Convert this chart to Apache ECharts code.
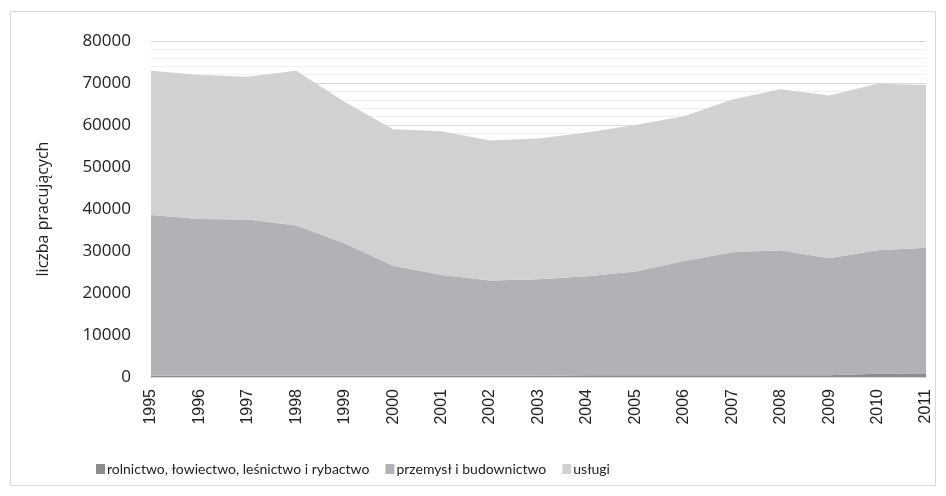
<!DOCTYPE html>
<html>
<head>
<meta charset="utf-8">
<script src="https://cdn.jsdelivr.net/npm/echarts@6/dist/echarts.min.js"></script>
<style>
    html, body { margin: 0; padding: 0; background: #fff; }
    #chart { width: 946px; height: 496px; }
</style>
</head>
<body>
<div id="chart"></div>
<script>
// lata
const years = ['1995', '1996', '1997', '1998', '1999', '2000', '2001', '2002', '2003',
    '2004', '2005', '2006', '2007', '2008', '2009', '2010', '2011'];
// rolnictwo, łowiectwo, leśnictwo i rybactwo
const rolnictwo = [300, 300, 300, 300, 300, 300, 300, 300, 300,
    400, 400, 400, 400, 400, 400, 800, 700];
// przemysł i budownictwo
const przemysl = [38300, 37300, 37200, 35800, 31500, 26200, 24000, 22700, 23000,
    23600, 24700, 27200, 29300, 29800, 27900, 29400, 30100];
// usługi
const uslugi = [34300, 34300, 34000, 36800, 33700, 32500, 34200, 33300, 33500,
    34200, 34900, 34500, 36400, 38300, 38700, 39600, 38700];

const yTicks = [0, 10000, 20000, 30000, 40000, 50000, 60000, 70000, 80000];
const names = ['rolnictwo, łowiectwo, leśnictwo i rybactwo', 'przemysł i budownictwo', 'usługi'];

const chart = echarts.init(document.getElementById('chart'));

const areaSeries = (name, data, color) => ({
    name: name,
    type: 'line',
    stack: 'total',
    data: data,
    symbol: 'none',
    lineStyle: { width: 0 },
    areaStyle: { color: color, opacity: 1 },
    itemStyle: { color: color }
});

chart.setOption({
    animation: false,
    graphic: [{
        type: 'rect',
        shape: { x: 10.5, y: 11.5, width: 925, height: 474 },
        style: { fill: 'none', stroke: '#d9d9d9', lineWidth: 1 },
        silent: true
    }],
    grid: { left: 151, right: 20, top: 41, bottom: 119 },
    legend: {
        top: 457,
        left: 91,
        itemWidth: 9,
        itemHeight: 10,
        itemGap: 16,
        icon: 'rect',
        textStyle: { fontFamily: 'Lato', fontSize: 14, color: '#222', padding: [0, 0, 0, -3] },
        data: names
    },
    xAxis: {
        type: 'category',
        data: years,
        boundaryGap: false,
        axisLine: { lineStyle: { color: '#d9d9d9', width: 1 } },
        axisTick: { show: false },
        axisLabel: {
            rotate: 90,
            fontFamily: 'Liberation Sans',
            fontSize: 16,
            color: '#222',
            margin: 12
        }
    },
    yAxis: {
        type: 'value',
        min: yTicks[0],
        max: yTicks[yTicks.length - 1],
        interval: 10000,
        name: 'liczba pracujących',
        nameLocation: 'middle',
        nameGap: 100,
        nameTextStyle: { fontFamily: 'Open Sans', fontSize: 16, color: '#222' },
        axisLabel: {
            fontFamily: 'Open Sans',
            fontSize: 17,
            color: '#222',
            margin: 20,
            formatter: (v) => String(v)
        },
        axisLine: { show: false },
        axisTick: { show: false },
        splitLine: { lineStyle: { color: '#d9d9d9', width: 1 } },
        minorTick: { show: false, splitNumber: 5 },
        minorSplitLine: { show: true, lineStyle: { color: '#f0f0f0', width: 1 } }
    },
    series: [
        areaSeries(names[0], rolnictwo, '#8c8c8e'),
        areaSeries(names[1], przemysl, '#b1b2b5'),
        areaSeries(names[2], uslugi, '#d0d1d3')
    ]
});
</script>
</body>
</html>
